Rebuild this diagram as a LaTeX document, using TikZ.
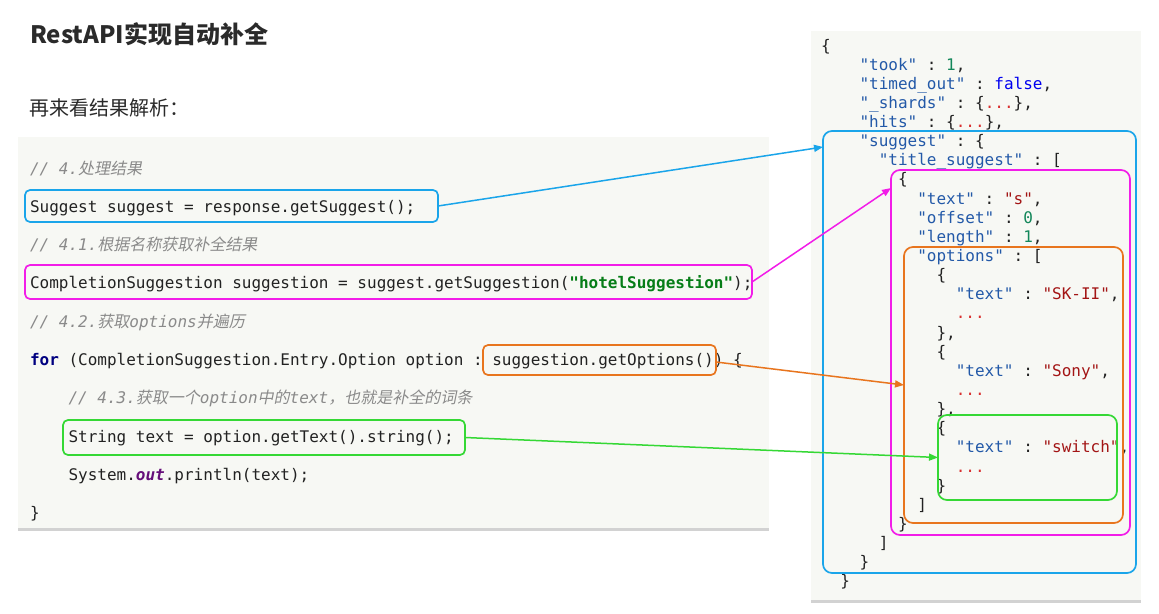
\documentclass[tikz,border=0pt]{standalone}
\usepackage{fontspec}
\setmonofont{DejaVu Sans Mono}
\newfontfamily\cjk{Noto Sans CJK SC}
\newfontfamily\cjkit[FakeSlant=0.2]{Noto Sans CJK SC}
\usetikzlibrary{arrows.meta,shadows}

\definecolor{panelbg}{HTML}{F7F8F4}
\definecolor{cblue}{HTML}{1AA5EA}
\definecolor{cmag}{HTML}{F21DE8}
\definecolor{corange}{HTML}{E8751E}
\definecolor{cgreen}{HTML}{35D835}
\definecolor{jkeyc}{HTML}{2359A8}
\definecolor{jstrc}{HTML}{A31515}
\definecolor{jnumc}{HTML}{13875A}
\definecolor{jboolc}{HTML}{0000F0}
\definecolor{jdotc}{HTML}{D93030}
\definecolor{cmtc}{HTML}{8A8A8A}
\definecolor{kwc}{HTML}{000080}
\definecolor{strgc}{HTML}{067D17}
\definecolor{purpc}{HTML}{660E7A}
\definecolor{codec}{HTML}{222222}
\definecolor{titlec}{HTML}{2A2A2A}

\newcommand\zhit[1]{{\cjkit\upshape #1}}
\newcommand\jkey[1]{\textcolor{jkeyc}{#1}}
\newcommand\jstr[1]{\textcolor{jstrc}{#1}}
\newcommand\jnum[1]{\textcolor{jnumc}{#1}}
\newcommand\jbool[1]{\textcolor{jboolc}{#1}}
\newcommand\jdots{\textcolor{jdotc}{...}}
\newcommand\jline[4]{\node[jtxt] (#1) at ({821+#2*9.63},{51+(#3-1)*19.14}) {#4};}
\newcommand\lcode[4]{\node[ctxt] (#1) at ({30+#2*9.63},{174+(#3-1)*38.3}) {#4};}

\tikzset{
  panel/.style={fill=panelbg, draw=none, drop shadow={shadow xshift=0pt, shadow yshift=-2.5pt, opacity=0.35}},
  jtxt/.style={anchor=base west, inner sep=0, outer sep=0, text=codec, font=\ttfamily\fontsize{16}{19}\selectfont},
  ctxt/.style={anchor=base west, inner sep=0, outer sep=0, text=codec, font=\ttfamily\fontsize{16}{19}\selectfont},
  cmt/.style={ctxt, text=cmtc, font=\ttfamily\itshape\fontsize{16}{19}\selectfont},
  hbox/.style={draw=#1, line width=1.7pt, rounded corners=5pt, inner sep=0, outer sep=0},
  rbox/.style={draw=#1, line width=1.7pt, rounded corners=9pt, inner sep=0, outer sep=0},
  arr/.style={draw=#1, line width=1.5pt, -{Triangle[length=9pt,width=7pt]}},
}

\begin{document}
\begin{tikzpicture}[x=1pt,y=-1pt]
\useasboundingbox[fill=white] (0,0) rectangle (1159,613);

% titles
\node[anchor=base west, inner sep=0, text=titlec, font=\cjk\bfseries\fontsize{24}{28}\selectfont] (title) at (30,43) {RestAPI实现自动补全};
\node[anchor=base west, inner sep=0, text=titlec, font=\cjk\fontsize{20}{24}\selectfont] (sub) at (29,115) {再来看结果解析：};

% panels
\path[panel] (18,137) rectangle (769,528);
\path[panel] (811,31) rectangle (1141,600);

% left code
\node[cmt] (c1) at (30,174) {// 4.\zhit{处理结果}};
\lcode{c2}{0}{2}{Suggest suggest = response.getSuggest();}
\node[cmt] (c3) at (30,250.6) {// 4.1.\zhit{根据名称获取补全结果}};
\lcode{c4}{0}{4}{CompletionSuggestion suggestion = suggest.getSuggestion({\bfseries\color{strgc}"hotelSuggestion"});}
\node[cmt] (c5) at (30,327.2) {// 4.2.\zhit{获取}options\zhit{并遍历}};
\lcode{c6}{0}{6}{{\bfseries\color{kwc}for} (CompletionSuggestion.Entry.Option option : suggestion.getOptions()) \{}
\node[cmt] (c7) at (68.5,403.8) {// 4.3.\zhit{获取一个}option\zhit{中的}text\zhit{，也就是补全的词条}};
\lcode{c8}{4}{8}{String text = option.getText().string();}
\lcode{c9}{4}{9}{System.{\bfseries\itshape\color{purpc}out}.println(text);}
\lcode{c10}{0}{10}{\}}

% right json
\jline{j1}{0}{1}{\{}
\jline{j2}{4}{2}{\jkey{"took"} : \jnum{1},}
\jline{j3}{4}{3}{\jkey{"timed\_out"} : \jbool{false},}
\jline{j4}{4}{4}{\jkey{"\_shards"} : \{\jdots\},}
\jline{j5}{4}{5}{\jkey{"hits"} : \{\jdots\},}
\jline{j6}{4}{6}{\jkey{"suggest"} : \{}
\jline{j7}{6}{7}{\jkey{"title\_suggest"} : [}
\jline{j8}{8}{8}{\{}
\jline{j9}{10}{9}{\jkey{"text"} : \jstr{"s"},}
\jline{j10}{10}{10}{\jkey{"offset"} : \jnum{0},}
\jline{j11}{10}{11}{\jkey{"length"} : \jnum{1},}
\jline{j12}{10}{12}{\jkey{"options"} : [}
\jline{j13}{12}{13}{\{}
\jline{j14}{14}{14}{\jkey{"text"} : \jstr{"SK-II"},}
\jline{j15}{14}{15}{\jdots}
\jline{j16}{12}{16}{\},}
\jline{j17}{12}{17}{\{}
\jline{j18}{14}{18}{\jkey{"text"} : \jstr{"Sony"},}
\jline{j19}{14}{19}{\jdots}
\jline{j20}{12}{20}{\},}
\jline{j21}{12}{21}{\{}
\jline{j22}{14}{22}{\jkey{"text"} : \jstr{"switch"},}
\jline{j23}{14}{23}{\jdots}
\jline{j24}{12}{24}{\}}
\jline{j25}{10}{25}{]}
\jline{j26}{8}{26}{\}}
\jline{j27}{6}{27}{]}
\jline{j28}{4}{28}{\}}
\jline{j29}{2}{29}{\}}

% left highlight boxes
\node[hbox=cblue, minimum width=413pt, minimum height=32pt] (lb) at (231.5,206) {};
\node[hbox=cmag, minimum width=727pt, minimum height=34pt] (lm) at (388.5,282) {};
\node[hbox=corange, minimum width=233pt, minimum height=30pt] (lo) at (599.5,360) {};
\node[hbox=cgreen, minimum width=402pt, minimum height=35pt] (lg) at (264,437.5) {};

% right highlight boxes
\node[rbox=cblue, minimum width=313pt, minimum height=442pt] (rb) at (979.5,352) {};
\node[rbox=cmag, minimum width=239pt, minimum height=365pt] (rm) at (1010.5,352.5) {};
\node[rbox=corange, minimum width=219pt, minimum height=276pt] (ro) at (1013.5,385) {};
\node[rbox=cgreen, minimum width=179pt, minimum height=85pt] (rg) at (1027.5,457.5) {};

% connectors
\draw[arr=cblue] (lb.east) -- ([yshift=-16pt]rb.north west);
\draw[arr=cmag] (lm.east) -- ([yshift=-18pt]rm.north west);
\draw[arr=corange] ([yshift=-2pt]lo.east) -- (ro.west);
\draw[arr=cgreen] (lg.east) -- (rg.west);
\end{tikzpicture}
\end{document}
